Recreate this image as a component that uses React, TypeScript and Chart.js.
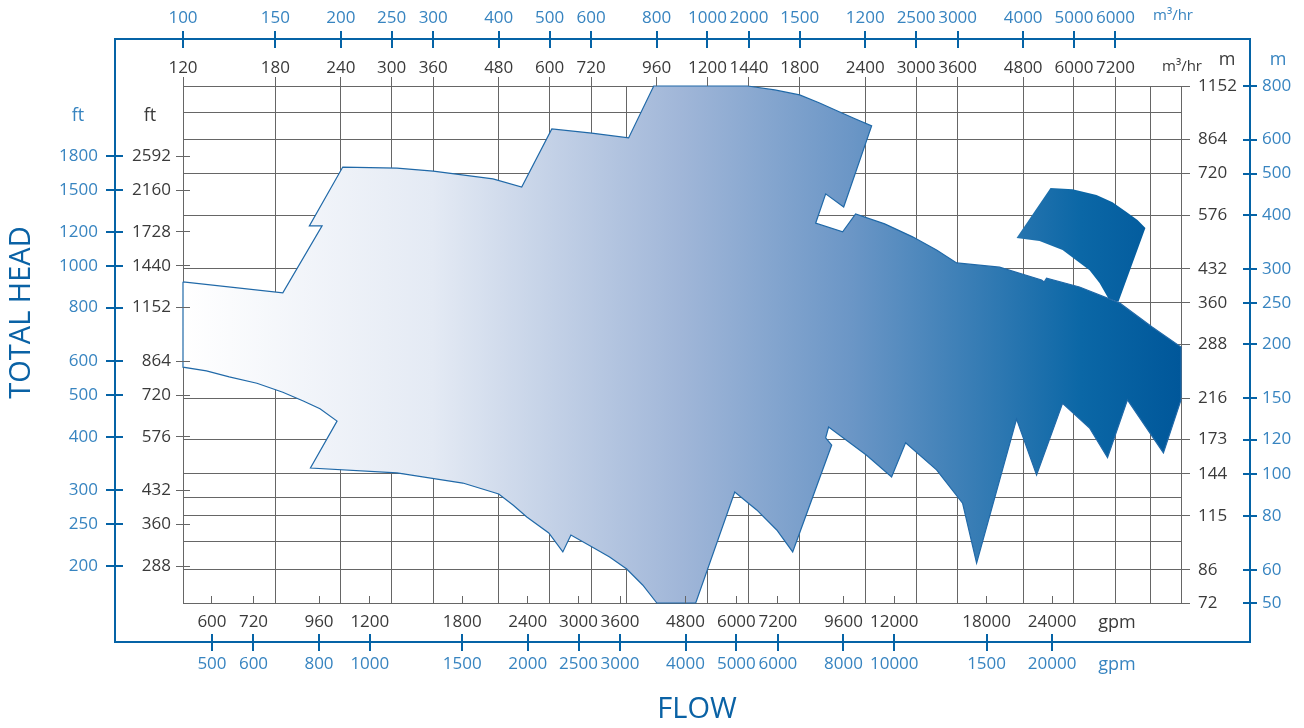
import React, { useEffect, useRef } from 'react';
import { Chart, registerables } from 'chart.js';

Chart.register(...registerables);

// ---------------- data ----------------
const flowMinM3h = 120;
const flowMaxM3h = 9600;
const headMinM = 72;
const headMaxM = 1152;
const gpmPerM3h = 4.4029;
const ftPerM = 3.2808;

// grid lines
const flowGridM3h = [120, 180, 240, 300, 360, 480, 600, 720, 840, 960, 1200, 1440, 1800, 2400, 3000, 3600, 4800, 6000, 7200, 8400, 9600];
const headGridM = [1152, 1000, 864, 720, 576, 432, 360, 288, 216, 173, 144, 127, 115, 100, 86, 72];

// tick labels
const flowTopM3h = [120, 180, 240, 300, 360, 480, 600, 720, 960, 1200, 1440, 1800, 2400, 3000, 3600, 4800, 6000, 7200];
const flowTopBlueLabels = ['100', '150', '200', '250', '300', '400', '500', '600', '800', '1000', '2000', '1500', '1200', '2500', '3000', '4000', '5000', '6000'];
const flowBottomGpm = [600, 720, 960, 1200, 1800, 2400, 3000, 3600, 4800, 6000, 7200, 9600, 12000, 18000, 24000];
const flowBottomBlueLabels = ['500', '600', '800', '1000', '1500', '2000', '2500', '3000', '4000', '5000', '6000', '8000', '10000', '1500', '20000'];
const headRightM = [1152, 864, 720, 576, 432, 360, 288, 216, 173, 144, 115, 86, 72];
const headRightBlueLabels = ['800', '600', '500', '400', '300', '250', '200', '150', '120', '100', '80', '60', '50'];
const headLeftFt = [2592, 2160, 1728, 1440, 1152, 864, 720, 576, 432, 360, 288];
const headLeftBlueLabels = ['1800', '1500', '1200', '1000', '800', '600', '500', '400', '300', '250', '200'];

// performance envelope (flow m3/hr, head m), traced clockwise
const envelopeFlow = [120, 186, 221, 209, 242, 307, 360, 468, 531, 606, 722, 849, 948, 1432, 1613, 1799, 1964, 2145, 2300, 2468, 2183, 2017, 1930, 2173, 2300, 2613, 2954, 3282, 3585, 4327, 5205, 5262, 5320, 6148, 7328, 8470, 9600, 9600, 8887, 7589, 6953, 6425, 5707, 5092, 4663, 3913, 3679, 3282, 2865, 2694, 2414, 2043, 2017, 2071, 1745, 1627, 1490, 1353, 1140, 961, 903, 842, 781, 722, 659, 636, 598, 543, 511, 480, 410, 307, 210, 236, 219, 203, 186, 166, 147, 133, 120];
const envelopeHead = [403, 380, 544, 544, 746, 742, 730, 700, 670, 915, 895, 872, 1152, 1152, 1128, 1098, 1052, 1002, 965, 930, 602, 646, 552, 527, 580, 550, 513, 478, 446, 436, 407, 402.6, 411, 392, 360, 316, 284, 214, 161, 214, 157, 184, 210, 143, 193, 89.2, 123, 147, 170, 141.6, 159, 185, 174.5, 168, 94.7, 106.5, 118.6, 130.6, 72, 72, 79.3, 86.4, 92.1, 97.3, 103.7, 94.7, 104.8, 114.2, 121.8, 129.2, 137, 144.7, 148.5, 191, 204, 213, 223, 234, 242, 250, 255];

// separate high-head zone
const upperFlow = [5413, 5961, 6624, 7107, 7555, 7931, 8211, 7296, 6984, 6713, 6425, 5707, 5158, 4663];
const upperHead = [667, 662, 642, 618, 586, 561.5, 538, 362, 368, 400.5, 429, 478, 502, 510];

// ---------------- styles ----------------
const FRAME_BLUE = '#0563a6';
const LABEL_BLUE = '#3784c0';
const TITLE_BLUE = '#0a62a5';
const LABEL_DARK = '#3a3a3a';
const GRID_COLOR = '#666666';
const OUTLINE = '#2069a8';
const FONT = "'Open Sans', 'Noto Sans', sans-serif";
const LABEL_SIZE = 17;
const gradientStops: [number, string][] = [
  [0, '#ffffff'],
  [0.25, '#e4eaf4'],
  [0.5, '#a0b6d8'],
  [0.67, '#6b96c6'],
  [0.9, '#0b67a6'],
  [1, '#00579a'],
];

function ring(xs: number[], ys: number[]) {
  const pts = xs.map((x, i) => ({ x, y: ys[i] }));
  pts.push({ x: xs[0], y: ys[0] });
  return pts;
}

function fillGradient(c: any) {
  const chart = c.chart;
  const a = chart.chartArea;
  if (!a) return '#a0b6d8';
  const g = chart.ctx.createLinearGradient(a.left, 0, a.right, 0);
  gradientStops.forEach(([o, col]) => g.addColorStop(o, col));
  return g;
}

function labelAxis(opts: {
  position: string; weight: number; size: number; values: number[]; labels: string[];
  color: string; padding: number; horizontal: boolean;
}) {
  const { position, weight, size, values, labels, color, padding, horizontal } = opts;
  return {
    type: 'logarithmic',
    position,
    weight,
    min: horizontal ? flowMinM3h : headMinM,
    max: horizontal ? flowMaxM3h : headMaxM,
    bounds: 'data',
    grid: { display: false, drawTicks: false },
    border: { display: false },
    ticks: {
      autoSkip: false,
      maxRotation: 0,
      minRotation: 0,
      padding,
      color,
      font: { size: LABEL_SIZE, family: FONT },
      callback: (_v: any, i: number) => labels[i],
    },
    afterBuildTicks: (s: any) => { s.ticks = values.map((v) => ({ value: v })); },
    afterFit: (s: any) => { if (horizontal) s.height = size; else s.width = size; },
  };
}

function gridAxis(position: string, values: number[], horizontal: boolean) {
  return {
    type: 'logarithmic',
    position,
    weight: 0,
    min: horizontal ? flowMinM3h : headMinM,
    max: horizontal ? flowMaxM3h : headMaxM,
    bounds: 'data',
    grid: { display: true, drawTicks: false, color: GRID_COLOR, lineWidth: 1 },
    border: { display: false },
    ticks: { display: false, autoSkip: false },
    afterBuildTicks: (s: any) => { s.ticks = values.map((v) => ({ value: v })); },
    afterFit: (s: any) => { if (horizontal) s.height = 0; else s.width = 0; },
  };
}

const crisp = (p: number) => Math.round(p - 0.5) + 0.5;

const decorPlugin = {
  id: 'decor',
  afterDraw(chart: any) {
    const { ctx, chartArea: ca, scales } = chart;
    const fL = scales.yLeftBlue.right;
    const fR = scales.yRightBlue.left;
    const fT = scales.xTopBlue.bottom;
    const fB = scales.xBotBlue.top;
    ctx.save();

    // blue frame
    ctx.strokeStyle = FRAME_BLUE;
    ctx.lineWidth = 2;
    ctx.strokeRect(Math.round(fL), Math.round(fT), Math.round(fR - fL), Math.round(fB - fT));

    const hMarks = (scale: any, y0: number, y1: number, color: string, w: number) => {
      ctx.strokeStyle = color; ctx.lineWidth = w; ctx.beginPath();
      for (const t of scale.ticks) {
        const p = scale.getPixelForValue(t.value);
        const x = w === 1 ? crisp(p) : Math.round(p);
        ctx.moveTo(x, y0); ctx.lineTo(x, y1);
      }
      ctx.stroke();
    };
    const vMarks = (scale: any, x0: number, x1: number, color: string, w: number) => {
      ctx.strokeStyle = color; ctx.lineWidth = w; ctx.beginPath();
      for (const t of scale.ticks) {
        const p = scale.getPixelForValue(t.value);
        const y = w === 1 ? crisp(p) : Math.round(p);
        ctx.moveTo(x0, y); ctx.lineTo(x1, y);
      }
      ctx.stroke();
    };

    // blue ticks crossing the frame
    hMarks(scales.xTopBlue, fT - 8, fT + 9, FRAME_BLUE, 2);
    hMarks(scales.xBotBlue, fB - 8, fB + 9, FRAME_BLUE, 2);
    vMarks(scales.yLeftBlue, fL - 9, fL + 8, FRAME_BLUE, 2);
    vMarks(scales.yRightBlue, fR - 7, fR + 7, FRAME_BLUE, 2);

    // dark ticks on the plot box
    hMarks(scales.xTopBlack, ca.top - 9, ca.top, GRID_COLOR, 1);
    hMarks(scales.xBotBlack, ca.bottom - 7, ca.bottom, GRID_COLOR, 1);
    vMarks(scales.yLeftBlack, ca.left - 7, ca.left + 7, GRID_COLOR, 1);
    vMarks(scales.yRightBlack, ca.right, ca.right + 9, GRID_COLOR, 1);

    // unit labels
    ctx.textAlign = 'center';
    ctx.textBaseline = 'middle';
    ctx.font = `18px ${FONT}`;
    ctx.fillStyle = LABEL_BLUE;
    ctx.fillText('ft', fL - 37, ca.top + 30);
    ctx.fillText('m', fR + 28, ca.top - 26);
    ctx.fillText('gpm', ca.right - 64, fB + 23);
    ctx.fillStyle = LABEL_DARK;
    ctx.fillText('ft', ca.left - 33, ca.top + 30);
    ctx.fillText('m', ca.right + 46, ca.top - 26);
    ctx.fillText('gpm', ca.right - 64, ca.bottom + 20);
    ctx.font = `15px ${FONT}`;
    ctx.fillStyle = LABEL_BLUE;
    ctx.fillText('m³/hr', ca.right - 8, fT - 23);
    ctx.fillStyle = LABEL_DARK;
    ctx.fillText('m³/hr', ca.right + 1, ca.top - 19);

    // axis titles
    ctx.fillStyle = TITLE_BLUE;
    ctx.font = `29px ${FONT}`;
    ctx.fillText('FLOW', (ca.left + ca.right) / 2 + 15, fB + 68);
    ctx.save();
    ctx.translate(fL - 93, (ca.top + ca.bottom) / 2 - 32);
    ctx.rotate(-Math.PI / 2);
    ctx.fillText('TOTAL HEAD', 0, 0);
    ctx.restore();

    ctx.restore();
  },
};

export default function App() {
  const ref = useRef<HTMLCanvasElement>(null);

  useEffect(() => {
    if (!ref.current) return;
    Chart.defaults.font.family = FONT;
    const chart = new Chart(ref.current, {
      type: 'line',
      data: {
        datasets: [
          {
            label: 'envelope',
            data: ring(envelopeFlow, envelopeHead),
            xAxisID: 'x',
            yAxisID: 'y',
            borderColor: OUTLINE,
            borderWidth: 1.2,
            backgroundColor: fillGradient,
            fill: 'shape',
            pointRadius: 0,
            pointHoverRadius: 0,
            tension: 0,
            clip: false,
          },
          {
            label: 'upper',
            data: ring(upperFlow, upperHead),
            xAxisID: 'x',
            yAxisID: 'y',
            borderColor: 'rgba(0,0,0,0)',
            borderWidth: 0,
            backgroundColor: fillGradient,
            fill: 'shape',
            pointRadius: 0,
            pointHoverRadius: 0,
            tension: 0,
            clip: false,
          },
        ] as any,
      },
      options: {
        responsive: false,
        maintainAspectRatio: false,
        devicePixelRatio: 1,
        animation: false,
        layout: { padding: 0 },
        plugins: { legend: { display: false }, tooltip: { enabled: false } },
        events: [],
        scales: {
          x: gridAxis('bottom', flowGridM3h, true),
          y: gridAxis('left', headGridM, false),
          xTopBlack: labelAxis({ position: 'top', weight: 1, size: 47, values: flowTopM3h, labels: flowTopM3h.map(String), color: LABEL_DARK, padding: 8, horizontal: true }),
          xTopBlue: labelAxis({ position: 'top', weight: 2, size: 39, values: flowTopM3h, labels: flowTopBlueLabels, color: LABEL_BLUE, padding: 11, horizontal: true }),
          xBotBlack: labelAxis({ position: 'bottom', weight: 1, size: 39, values: flowBottomGpm.map((g) => g / gpmPerM3h), labels: flowBottomGpm.map(String), color: LABEL_DARK, padding: 9, horizontal: true }),
          xBotBlue: labelAxis({ position: 'bottom', weight: 2, size: 86, values: flowBottomGpm.map((g) => g / gpmPerM3h), labels: flowBottomBlueLabels, color: LABEL_BLUE, padding: 12, horizontal: true }),
          yLeftBlack: labelAxis({ position: 'left', weight: 1, size: 68, values: headLeftFt.map((f) => f / ftPerM), labels: headLeftFt.map(String), color: LABEL_DARK, padding: 12, horizontal: false }),
          yLeftBlue: labelAxis({ position: 'left', weight: 2, size: 115, values: headLeftFt.map((f) => f / ftPerM), labels: headLeftBlueLabels, color: LABEL_BLUE, padding: 17, horizontal: false }),
          yRightBlack: labelAxis({ position: 'right', weight: 1, size: 69, values: headRightM, labels: headRightM.map(String), color: LABEL_DARK, padding: 17, horizontal: false }),
          yRightBlue: labelAxis({ position: 'right', weight: 2, size: 54, values: headRightM, labels: headRightBlueLabels, color: LABEL_BLUE, padding: 12, horizontal: false }),
        } as any,
      },
      plugins: [decorPlugin],
    } as any);
    return () => chart.destroy();
  }, []);

  return (
    <div style={{ position: 'fixed', left: 0, top: 0, width: 1304, height: 728, background: '#ffffff' }}>
      <canvas ref={ref} width={1304} height={728} style={{ width: 1304, height: 728, display: 'block' }} />
    </div>
  );
}
